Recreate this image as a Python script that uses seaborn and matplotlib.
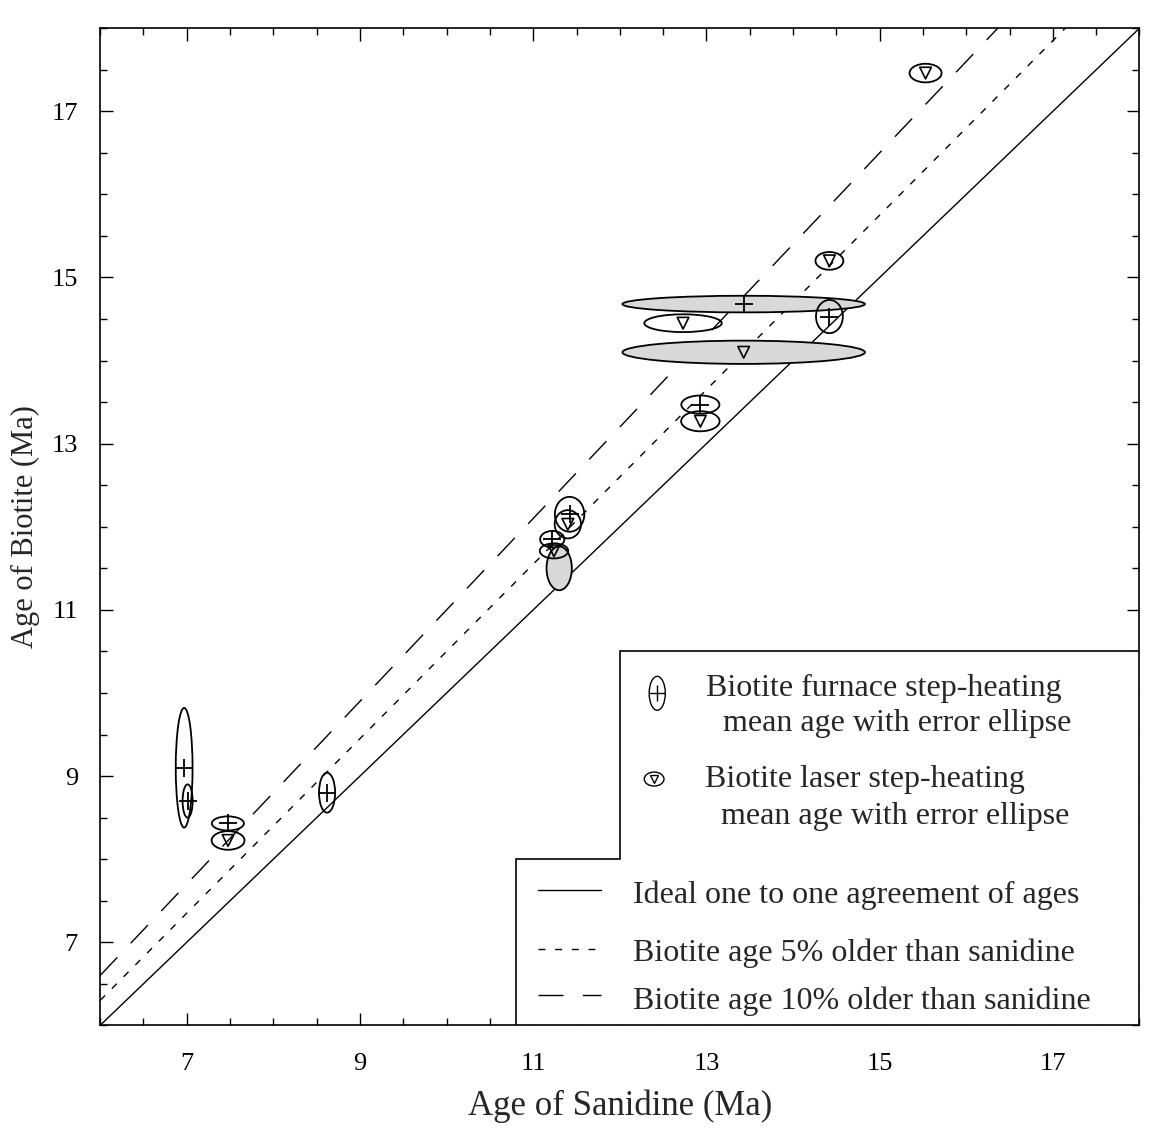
import numpy as np
import pandas as pd
import matplotlib
matplotlib.use("Agg")
import matplotlib.pyplot as plt
from matplotlib.patches import Ellipse, Polygon
import seaborn as sns

# ---------------- data ----------------
# furnace step-heating: centre x, centre y, half-width, half-height, stippled
furnace_x  = [6.97, 7.01, 7.475, 8.62, 11.42, 11.22, 11.30, 13.43, 14.42, 12.93]
furnace_y  = [9.10, 8.70, 8.43, 8.80, 12.15, 11.85, 11.50, 14.68, 14.53, 13.47]
furnace_rx = [0.097, 0.058, 0.185, 0.093, 0.17, 0.14, 0.146, 1.40, 0.155, 0.22]
furnace_ry = [0.72, 0.20, 0.085, 0.24, 0.21, 0.10, 0.264, 0.10, 0.20, 0.11]
furnace_st = [False, False, False, False, False, False, True, True, False, False]
furnace_mk = [True, True, True, True, True, True, False, True, True, True]

# laser step-heating
laser_x  = [7.477, 11.40, 11.24, 12.73, 13.43, 14.42, 12.93, 15.53]
laser_y  = [8.225, 12.03, 11.71, 14.45, 14.10, 15.20, 13.27, 17.46]
laser_rx = [0.19, 0.152, 0.164, 0.447, 1.40, 0.161, 0.222, 0.185]
laser_ry = [0.112, 0.17, 0.091, 0.107, 0.14, 0.107, 0.121, 0.112]
laser_st = [False, False, False, False, True, False, False, False]

# reference lines: biotite = ratio * sanidine
ref_ratios = [1.00, 1.05, 1.10]
ref_labels = ["Ideal one to one agreement of ages",
              "Biotite age 5% older than sanidine",
              "Biotite age 10% older than sanidine"]

x_ticks = [7, 9, 11, 13, 15, 17]
y_ticks = [7, 9, 11, 13, 15, 17]
xlim = (6, 18)
ylim = (6, 18)

# ---------------- style ----------------
sns.set_style("ticks")
plt.rcParams['font.family'] = ['Liberation Serif', 'DejaVu Serif']
plt.rcParams['lines.scale_dashes'] = False

fig = plt.figure(figsize=(11.51, 11.28), dpi=100)
ax = fig.add_axes([0.087, 0.091, 0.903, 0.884])

# reference lines
xs = np.array(xlim, dtype=float)
dash_styles = [None, (5, 7), (18, 14)]
for r, lab, ds in zip(ref_ratios, ref_labels, dash_styles):
    sns.lineplot(x=xs, y=xs * r, ax=ax, color="black", lw=1.0, zorder=2)
    ln = ax.lines[-1]
    if ds is not None:
        ln.set_dashes(ds)

# ellipses
def add_ellipses(xc, yc, rx, ry, st):
    for x, y, a, b, s in zip(xc, yc, rx, ry, st):
        e = Ellipse((x, y), 2 * a, 2 * b,
                    facecolor="#d9d9d9" if s else "none",
                    edgecolor="black", lw=1.3, zorder=3)
        ax.add_patch(e)

add_ellipses(furnace_x, furnace_y, furnace_rx, furnace_ry, furnace_st)
add_ellipses(laser_x, laser_y, laser_rx, laser_ry, laser_st)

fdf = pd.DataFrame({"x": furnace_x, "y": furnace_y, "m": furnace_mk})
fdf = fdf[fdf["m"]]
sns.scatterplot(data=fdf, x="x", y="y", marker="+", s=160, color="black",
                linewidth=1.3, ax=ax, zorder=4)
ldf = pd.DataFrame({"x": laser_x, "y": laser_y})
sns.scatterplot(data=ldf, x="x", y="y", marker="v", s=70, facecolor="none",
                edgecolor="black", linewidth=1.2, ax=ax, zorder=4)

ax.set_xlim(*xlim)
ax.set_ylim(*ylim)
ax.set_xticks(x_ticks)
ax.set_yticks(y_ticks)
ax.set_xticks(np.arange(6, 18.01, 0.5), minor=True)
ax.set_yticks(np.arange(6, 18.01, 0.5), minor=True)
ax.tick_params(which="both", direction="in", top=True, right=True,
               width=1.0, colors="black")
ax.tick_params(which="major", length=9, labelsize=19)
ax.tick_params(axis="x", which="major", pad=20)
ax.tick_params(axis="y", which="major", pad=16)
ax.tick_params(which="minor", length=5)
for sp in ax.spines.values():
    sp.set_linewidth(1.2)
    sp.set_color("black")

ax.set_xlabel("Age of Sanidine (Ma)", fontsize=25, labelpad=10)
ax.set_ylabel("Age of Biotite (Ma)", fontsize=22, labelpad=8)

# ---------------- stepped legend box ----------------
box = Polygon([(0.40, 0.0), (0.40, 0.167), (0.50, 0.167), (0.50, 0.375),
               (1.0, 0.375), (1.0, 0.0)], closed=True, transform=ax.transAxes,
              facecolor="white", edgecolor="black", lw=1.2, zorder=5)
ax.add_patch(box)

tkw = dict(transform=ax.transAxes, fontsize=23, va="center", ha="left", zorder=6)
# furnace handle
ax.add_patch(Ellipse((0.536, 0.333), 0.0155, 0.034, transform=ax.transAxes,
                     facecolor="none", edgecolor="black", lw=1.0, zorder=6))
ax.plot([0.536], [0.333], marker="+", ms=11, color="black", mew=1.0,
        transform=ax.transAxes, zorder=7)
ax.text(0.583, 0.338, "Biotite furnace step-heating", **tkw)
ax.text(0.599, 0.303, "mean age with error ellipse", **tkw)
# laser handle
ax.add_patch(Ellipse((0.533, 0.247), 0.019, 0.014, transform=ax.transAxes,
                     facecolor="none", edgecolor="black", lw=1.0, zorder=6))
ax.plot([0.533], [0.247], marker="v", ms=6, mfc="none", mec="black", mew=1.0,
        transform=ax.transAxes, zorder=7)
ax.text(0.582, 0.247, "Biotite laser step-heating", **tkw)
ax.text(0.597, 0.209, "mean age with error ellipse", **tkw)
# line handles
line_y = [0.136, 0.077, 0.030]
text_y = [0.130, 0.072, 0.024]
for ly, ty, lab, ds in zip(line_y, text_y, ref_labels, dash_styles):
    l, = ax.plot([0.421, 0.482], [ly, ly], color="black", lw=1.0,
                 transform=ax.transAxes, zorder=6)
    if ds is not None:
        l.set_dashes(ds)
    ax.text(0.513, ty, lab, **tkw)

fig.savefig("out.png", dpi=100)
